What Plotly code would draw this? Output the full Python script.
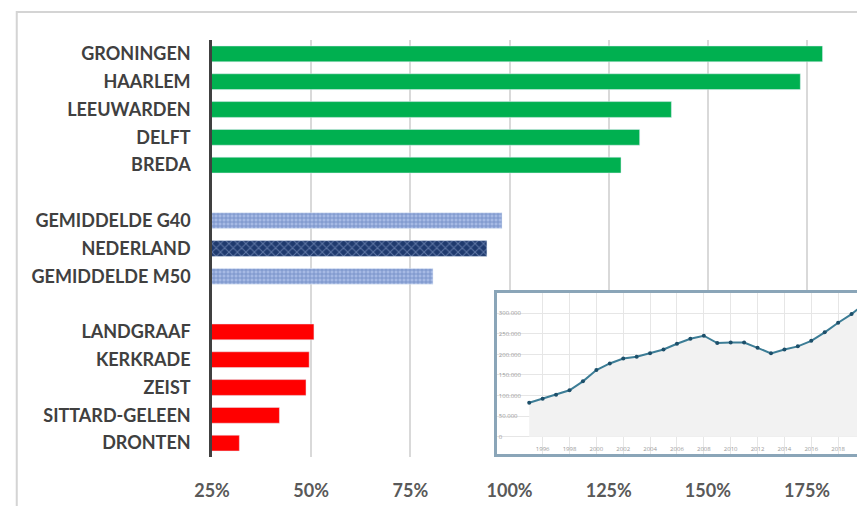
import plotly.graph_objects as go

# ---- main bar chart data ----
green_cities = ["GRONINGEN", "HAARLEM", "LEEUWARDEN", "DELFT", "BREDA"]
green_values = [178.9, 173.3, 140.8, 132.8, 128.1]

avg_light = ["GEMIDDELDE G40", "GEMIDDELDE M50"]
avg_light_values = [98.1, 80.7]
avg_dark = ["NEDERLAND"]
avg_dark_values = [94.3]

red_cities = ["LANDGRAAF", "KERKRADE", "ZEIST", "SITTARD-GELEEN", "DRONTEN"]
red_values = [50.7, 49.5, 48.7, 42.0, 31.9]

category_order = (green_cities + [" "] + ["GEMIDDELDE G40", "NEDERLAND", "GEMIDDELDE M50"]
                  + ["  "] + red_cities)

x_tickvals = [25, 50, 75, 100, 125, 150, 175]
x_ticktext = ["25%", "50%", "75%", "100%", "125%", "150%", "175%"]

# ---- inset line chart data ----
years = list(range(1995, 2021))
prices = [82700, 92400, 102000, 113000, 134500, 162000, 178000, 190000, 194500,
          202600, 212000, 226000, 238000, 245500, 227700, 229000, 229000, 216000,
          202600, 212000, 219600, 233000, 253600, 277000, 298000, 324000]
inset_yvals = [0, 50000, 100000, 150000, 200000, 250000, 300000]
inset_ytext = ["0", "50.000", "100.000", "150.000", "200.000", "250.000", "300.000"]
inset_xvals = list(range(1996, 2021, 2))

fig = go.Figure()

fig.add_trace(go.Bar(y=green_cities, x=green_values, orientation="h",
                     marker=dict(color="#00b050"), xaxis="x", yaxis="y"))
fig.add_trace(go.Bar(y=avg_light, x=avg_light_values, orientation="h",
                     marker=dict(color="#a6bae4",
                                 pattern=dict(shape="+", fgcolor="#4565ad", size=4, solidity=0.4)),
                     xaxis="x", yaxis="y"))
fig.add_trace(go.Bar(y=avg_dark, x=avg_dark_values, orientation="h",
                     marker=dict(color="#1f3a6e",
                                 pattern=dict(shape="x", fgcolor="#9fb3dc", size=6, solidity=0.3)),
                     xaxis="x", yaxis="y"))
fig.add_trace(go.Bar(y=red_cities, x=red_values, orientation="h",
                     marker=dict(color="#ff0000"), xaxis="x", yaxis="y"))

fig.add_trace(go.Scatter(x=years, y=prices, mode="lines+markers", fill="tozeroy",
                         fillcolor="#f2f2f2",
                         line=dict(color="#3c7d96", width=2),
                         marker=dict(color="#1d4f6a", size=4),
                         xaxis="x2", yaxis="y2"))

fig.update_layout(
    width=857, height=498,
    margin=dict(l=203.5, r=0, t=32, b=49),
    paper_bgcolor="white", plot_bgcolor="white",
    showlegend=False, bargap=0.43,
    xaxis=dict(range=[25, 189.6], domain=[0, 1], tickvals=x_tickvals, ticktext=x_ticktext,
               showgrid=True, gridcolor="#d9d9d9", gridwidth=1.5, zeroline=False,
               showline=False, ticks="", ticklabelstandoff=21,
               tickfont=dict(family="Lato", size=18, color="#595959", weight="bold")),
    yaxis=dict(categoryorder="array", categoryarray=category_order, autorange="reversed",
               domain=[0, 1], showgrid=False, zeroline=False,
               showline=True, linecolor="#404040", linewidth=2.5, ticks="",
               ticklabelstandoff=15,
               tickfont=dict(family="Lato", size=18, color="#404040", weight="bold")),
    xaxis2=dict(domain=[0.4364, 1.0], anchor="y2", range=[1992.6, 2020.0],
                tickvals=inset_xvals, ticklabelposition="inside",
                tickfont=dict(family="Open Sans", size=6, color="#9a9a9a"),
                showgrid=True, gridcolor="#e6e6e6", gridwidth=1, zeroline=False,
                showline=True, mirror=True, linecolor="#8aa5b8", linewidth=3, ticks=""),
    yaxis2=dict(domain=[0.0072, 0.394], anchor="x2", range=[-42000, 350000],
                tickvals=inset_yvals, ticktext=inset_ytext, ticklabelposition="inside",
                tickfont=dict(family="Open Sans", size=6, color="#9a9a9a"),
                showgrid=True, gridcolor="#e6e6e6", gridwidth=1, zeroline=False,
                showline=True, mirror=False, linecolor="#8aa5b8", linewidth=3, ticks=""),
    shapes=[dict(type="rect", xref="paper", yref="paper", x0=-0.299, x1=1.2, y0=-0.3, y1=1.067,
                 line=dict(color="#d4d4d4", width=2), fillcolor="rgba(0,0,0,0)", layer="below")],
)

fig.write_html("out.html")
